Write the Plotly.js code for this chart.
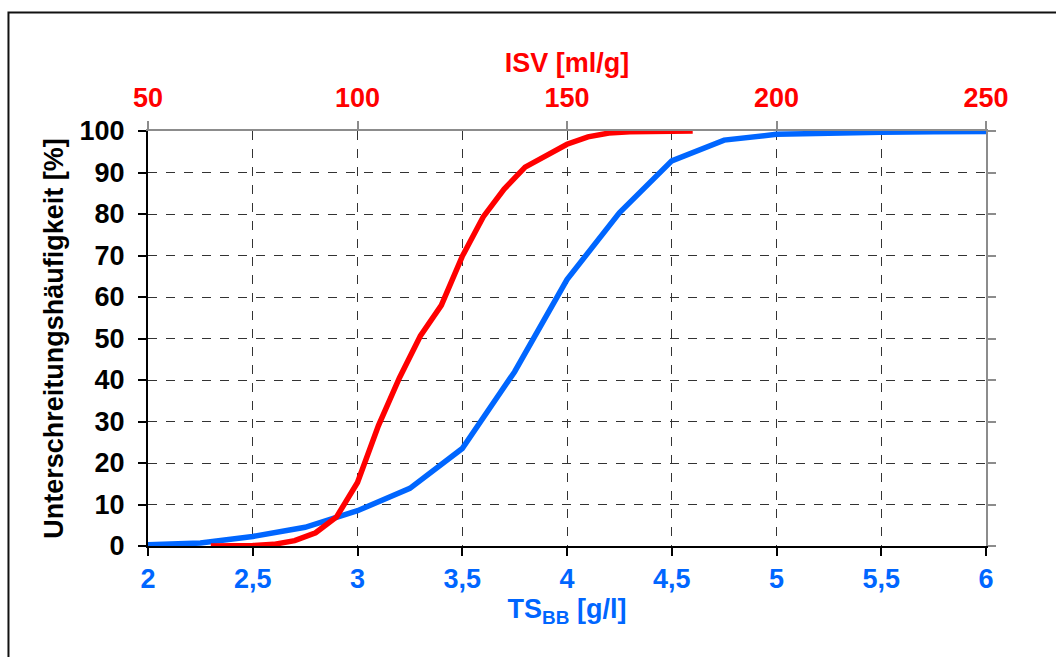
<!DOCTYPE html>
<html>
<head>
<meta charset="utf-8">
<script src="https://cdn.plot.ly/plotly-3.0.1.min.js"></script>
<style>html,body{margin:0;padding:0;background:#fff;}#chart{width:1056px;height:657px;}</style>
</head>
<body>
<div id="chart"></div>
<script>
// TS_BB [g/l] vs. Unterschreitungshäufigkeit [%] (blue, bottom axis)
const tsValues = [2, 2.25, 2.5, 2.75, 3, 3.25, 3.5, 3.75, 4, 4.25, 4.5, 4.75, 5, 5.25, 5.5, 5.75, 6];
const tsFreq   = [0.3, 0.7, 2.3, 4.5, 8.5, 13.9, 23.5, 42, 64.2, 80.3, 92.8, 97.8, 99.2, 99.6, 99.7, 99.8, 99.9];
// ISV [ml/g] vs. Unterschreitungshäufigkeit [%] (red, top axis)
const isvValues = [65, 70, 75, 80, 85, 90, 95, 100, 105, 110, 115, 120, 125, 130, 135, 140, 145, 150, 155, 160, 165, 170, 175, 180];
const isvFreq   = [0, 0, 0.1, 0.4, 1.3, 3.2, 7, 15.3, 29, 40.5, 50.6, 58, 69.8, 79.3, 86, 91.3, 94.2, 96.8, 98.6, 99.5, 99.8, 99.9, 100, 100];

const blue = '#0066ff', red = '#ff0000';
const fam = '"Liberation Sans", Arial, sans-serif';
const gridCol = '#333333';
const fs = 27;

const traces = [
  {x: isvValues, y: isvFreq, xaxis: 'x2', yaxis: 'y2', type: 'scatter', mode: 'lines',
   line: {color: red, width: 5.5}, hoverinfo: 'skip', showlegend: false},
  {x: tsValues, y: tsFreq, xaxis: 'x', yaxis: 'y', type: 'scatter', mode: 'lines',
   line: {color: blue, width: 5.5}, hoverinfo: 'skip', showlegend: false}
];

const layout = {
  width: 1056, height: 657,
  margin: {l: 148, r: 70, t: 131, b: 111, pad: 0},
  paper_bgcolor: '#fff', plot_bgcolor: '#fff',
  separators: ', ',
  showlegend: false,
  font: {family: fam, size: fs, color: '#000', weight: 'bold'},
  xaxis: {
    range: [2, 6], dtick: 0.5, tick0: 2, fixedrange: true,
    showline: true, linecolor: '#000', linewidth: 2,
    ticks: 'outside', ticklen: 8, tickwidth: 2, tickcolor: '#000',
    showgrid: true, gridcolor: gridCol, gridwidth: 1, griddash: 'dash', zeroline: false,
    tickfont: {family: fam, size: fs, color: blue, weight: 'bold'},
    ticklabelstandoff: 0,
    title: {text: 'TS<sub>BB</sub> [g/l]', font: {family: fam, size: fs, color: blue, weight: 'bold'}, standoff: 0},
    automargin: false
  },
  xaxis2: {
    overlaying: 'x', side: 'top', anchor: 'y',
    range: [50, 250], dtick: 50, tick0: 50, fixedrange: true,
    showline: true, linecolor: '#8c8c8c', linewidth: 2,
    ticks: 'outside', ticklen: 8, tickwidth: 2, tickcolor: '#8c8c8c',
    showgrid: false, zeroline: false,
    tickfont: {family: fam, size: fs, color: red, weight: 'bold'},
    ticklabelstandoff: 3,
    title: {text: 'ISV [ml/g]', font: {family: fam, size: fs, color: red, weight: 'bold'}, standoff: 3},
    automargin: false
  },
  yaxis: {
    range: [0, 100], dtick: 10, tick0: 0, fixedrange: true,
    showline: true, linecolor: '#000', linewidth: 2,
    ticks: 'outside', ticklen: 8, tickwidth: 2, tickcolor: '#000',
    showgrid: true, gridcolor: gridCol, gridwidth: 1, griddash: 'dash', zeroline: false,
    tickfont: {family: fam, size: fs, color: '#000', weight: 'bold'},
    ticklabelstandoff: 8,
    title: {text: 'Unterschreitungshäufigkeit [%]', font: {family: fam, size: fs, color: '#000', weight: 'bold'}, standoff: 8},
    automargin: false
  },
  yaxis2: {
    overlaying: 'y', side: 'right', anchor: 'x',
    range: [0, 100], dtick: 10, tick0: 0, fixedrange: true,
    showline: true, linecolor: '#8c8c8c', linewidth: 2,
    ticks: 'outside', ticklen: 8, tickwidth: 2, tickcolor: '#8c8c8c',
    showticklabels: false, showgrid: false, zeroline: false
  },
  shapes: [{
    type: 'rect', xref: 'paper', yref: 'paper',
    x0: -0.1665, x1: 1.3, y0: -0.5, y1: 1.2855,
    line: {color: '#111', width: 2}, fillcolor: 'rgba(0,0,0,0)', layer: 'above'
  }]
};

Plotly.newPlot('chart', traces, layout, {staticPlot: true, displayModeBar: false});
</script>
</body>
</html>
